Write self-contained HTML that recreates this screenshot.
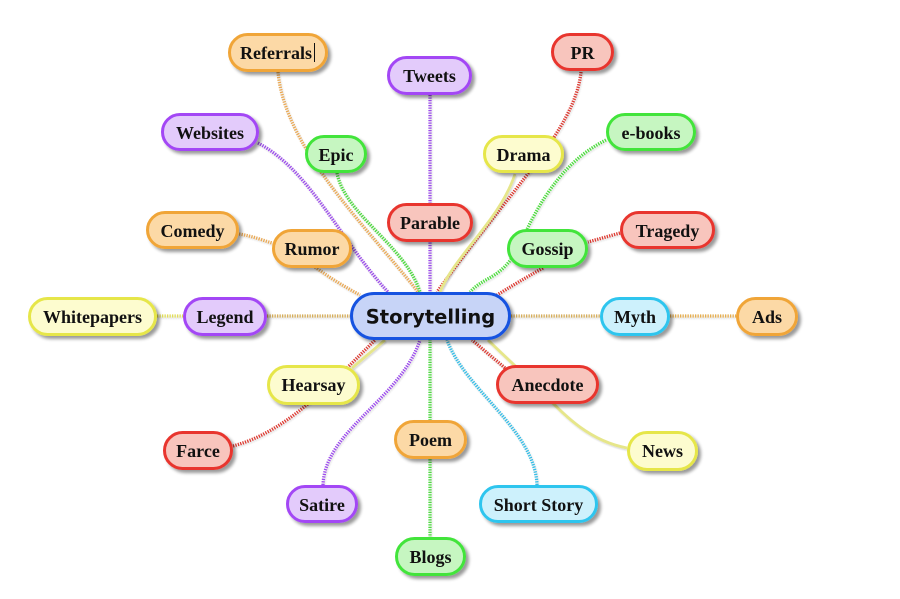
<!DOCTYPE html>
<html><head><meta charset="utf-8"><style>
html,body{margin:0;padding:0;background:#fff;}
svg{display:block;}
.n text{font-family:"Liberation Serif",serif;font-weight:bold;font-size:18px;fill:#111;}
</style></head><body>
<svg width="900" height="599" viewBox="0 0 900 599" xmlns="http://www.w3.org/2000/svg">
<defs>
<filter id="sh" x="-20%" y="-30%" width="150%" height="180%">
<feGaussianBlur in="SourceAlpha" stdDeviation="1.6"/>
<feOffset dx="3" dy="3" result="b"/>
<feComponentTransfer><feFuncA type="linear" slope="0.4"/></feComponentTransfer>
<feMerge><feMergeNode/><feMergeNode in="SourceGraphic"/></feMerge>
</filter>
<filter id="lsh" x="-10%" y="-10%" width="120%" height="120%">
<feGaussianBlur in="SourceAlpha" stdDeviation="0.8"/>
<feOffset dx="1" dy="1.5" result="b"/>
<feComponentTransfer><feFuncA type="linear" slope="0.15"/></feComponentTransfer>
<feMerge><feMergeNode/><feMergeNode in="SourceGraphic"/></feMerge>
</filter>
</defs>
<rect width="900" height="599" fill="#fff"/>
<g fill="none" stroke-width="3.3" stroke-dasharray="1.3 1.2" filter="url(#lsh)">
<path d="M278,72 C285,150 370,230 418,292" stroke="#eaa955"/>
<path d="M337,173 C345,215 405,245 420,292" stroke="#4cdc3c"/>
<path d="M258,143 C310,170 340,240 388,292" stroke="#9c4cec"/>
<path d="M239,234 C252,236 262,240 272,243" stroke="#eaa955"/>
<path d="M315,267 C330,278 345,287 360,295" stroke="#eaa955"/>
<path d="M430,95 L430,292" stroke="#9c4cec"/>
<path d="M581,72 C575,130 510,190 437,292" stroke="#dc3a32"/>
<path d="M606,140 C565,160 540,200 522,240 S485,275 470,292" stroke="#4cdc3c"/>
<path d="M620,233 L588,242" stroke="#dc3a32"/>
<path d="M543,268 C525,278 510,287 497,295" stroke="#dc3a32"/>
<path d="M511,316 L600,316" stroke="#d6ae5c"/>
<path d="M670,316 L736,316" stroke="#e6ae50"/>
<path d="M267,316 L350,316" stroke="#d6ae5c"/>
<path d="M157,316 L183,316" stroke="#e2de58"/>
<path d="M505,368 L472,340" stroke="#dc3a32"/>
<path d="M537,485 C535,430 465,390 447,340" stroke="#36bde6"/>
<path d="M430,538 L430,340" stroke="#4cdc3c"/>
<path d="M323,485 C325,430 400,400 420,340" stroke="#9c4cec"/>
<path d="M233,446 C285,432 325,390 375,340" stroke="#dc3a32"/>
</g>
<g fill="none" stroke="#e6e68a" stroke-width="2.8" filter="url(#lsh)">
<path d="M515,174 C500,220 455,255 440,292"/>
<path d="M627,448 C585,440 560,410 540,390 S500,352 488,340"/>
<path d="M352,368 L385,340"/>
</g>

<g class="n">
<g fill="#fcd9a6" stroke="#f0a537" stroke-width="3" filter="url(#sh)">
<rect x="229.5" y="34.5" width="97" height="36" rx="18"/>
<rect x="147.5" y="212.5" width="90" height="35" rx="17.5"/>
<rect x="273.5" y="230.5" width="77" height="36" rx="18"/>
<rect x="737.5" y="298.5" width="59" height="36" rx="18"/>
<rect x="395.5" y="421.5" width="70" height="36" rx="18"/>
</g>
<g fill="#e3cbfb" stroke="#a347f5" stroke-width="3" filter="url(#sh)">
<rect x="388.5" y="57.5" width="82" height="36" rx="18"/>
<rect x="162.5" y="114.5" width="95" height="35" rx="17.5"/>
<rect x="184.5" y="298.5" width="81" height="36" rx="18"/>
<rect x="287.5" y="486.5" width="69" height="35" rx="17.5"/>
</g>
<g fill="#c6f6c1" stroke="#43e43a" stroke-width="3" filter="url(#sh)">
<rect x="306.5" y="136.5" width="59" height="35" rx="17.5"/>
<rect x="607.5" y="114.5" width="87" height="35" rx="17.5"/>
<rect x="508.5" y="230.5" width="78" height="36" rx="18"/>
<rect x="396.5" y="538.5" width="68" height="36" rx="18"/>
</g>
<g fill="#f8c5bd" stroke="#e8342d" stroke-width="3" filter="url(#sh)">
<rect x="552.5" y="34.5" width="60" height="35" rx="17.5"/>
<rect x="388.5" y="204.5" width="83" height="36" rx="18"/>
<rect x="621.5" y="212.5" width="92" height="35" rx="17.5"/>
<rect x="497.5" y="366.5" width="100" height="36" rx="18"/>
<rect x="164.5" y="432.5" width="67" height="36" rx="18"/>
</g>
<g fill="#fdfccf" stroke="#e6e64a" stroke-width="3" filter="url(#sh)">
<rect x="484.5" y="136.5" width="78" height="35" rx="17.5"/>
<rect x="29.5" y="298.5" width="126" height="36" rx="18"/>
<rect x="268.5" y="366.5" width="90" height="37" rx="18.5"/>
<rect x="628.5" y="432.5" width="68" height="37" rx="18.5"/>
</g>
<g fill="#cdf1fc" stroke="#2ec5ee" stroke-width="3" filter="url(#sh)">
<rect x="601.5" y="298.5" width="67" height="36" rx="18"/>
<rect x="480.5" y="486.5" width="116" height="35" rx="17.5"/>
</g>
<rect x="351.5" y="293.5" width="158" height="45" rx="22.5" fill="#c7d4f7" stroke="#1553e0" stroke-width="3" filter="url(#sh)"/>

<g text-anchor="middle" dominant-baseline="central">
<text x="276" y="53">Referrals</text>
<text x="192.5" y="231">Comedy</text>
<text x="312" y="249">Rumor</text>
<text x="767" y="317">Ads</text>
<text x="430.5" y="440">Poem</text>
<text x="429.5" y="76">Tweets</text>
<text x="210" y="133">Websites</text>
<text x="225" y="317">Legend</text>
<text x="322" y="505">Satire</text>
<text x="336" y="155">Epic</text>
<text x="651" y="133">e-books</text>
<text x="547.5" y="249">Gossip</text>
<text x="430.5" y="557">Blogs</text>
<text x="582.5" y="53">PR</text>
<text x="430" y="223">Parable</text>
<text x="667.5" y="231">Tragedy</text>
<text x="547.5" y="385">Anecdote</text>
<text x="198" y="451">Farce</text>
<text x="523.5" y="155">Drama</text>
<text x="92.5" y="317">Whitepapers</text>
<text x="313.5" y="385">Hearsay</text>
<text x="662.5" y="451">News</text>
<text x="635" y="317">Myth</text>
<text x="538.5" y="505">Short Story</text>
<text x="430.5" y="317" style="font-family:'DejaVu Sans',sans-serif;font-size:19.5px;font-weight:bold;">Storytelling</text>
</g>
<line x1="314.5" y1="43" x2="314.5" y2="62" stroke="#111" stroke-width="1"/>
</g>
</svg>
</body></html>
